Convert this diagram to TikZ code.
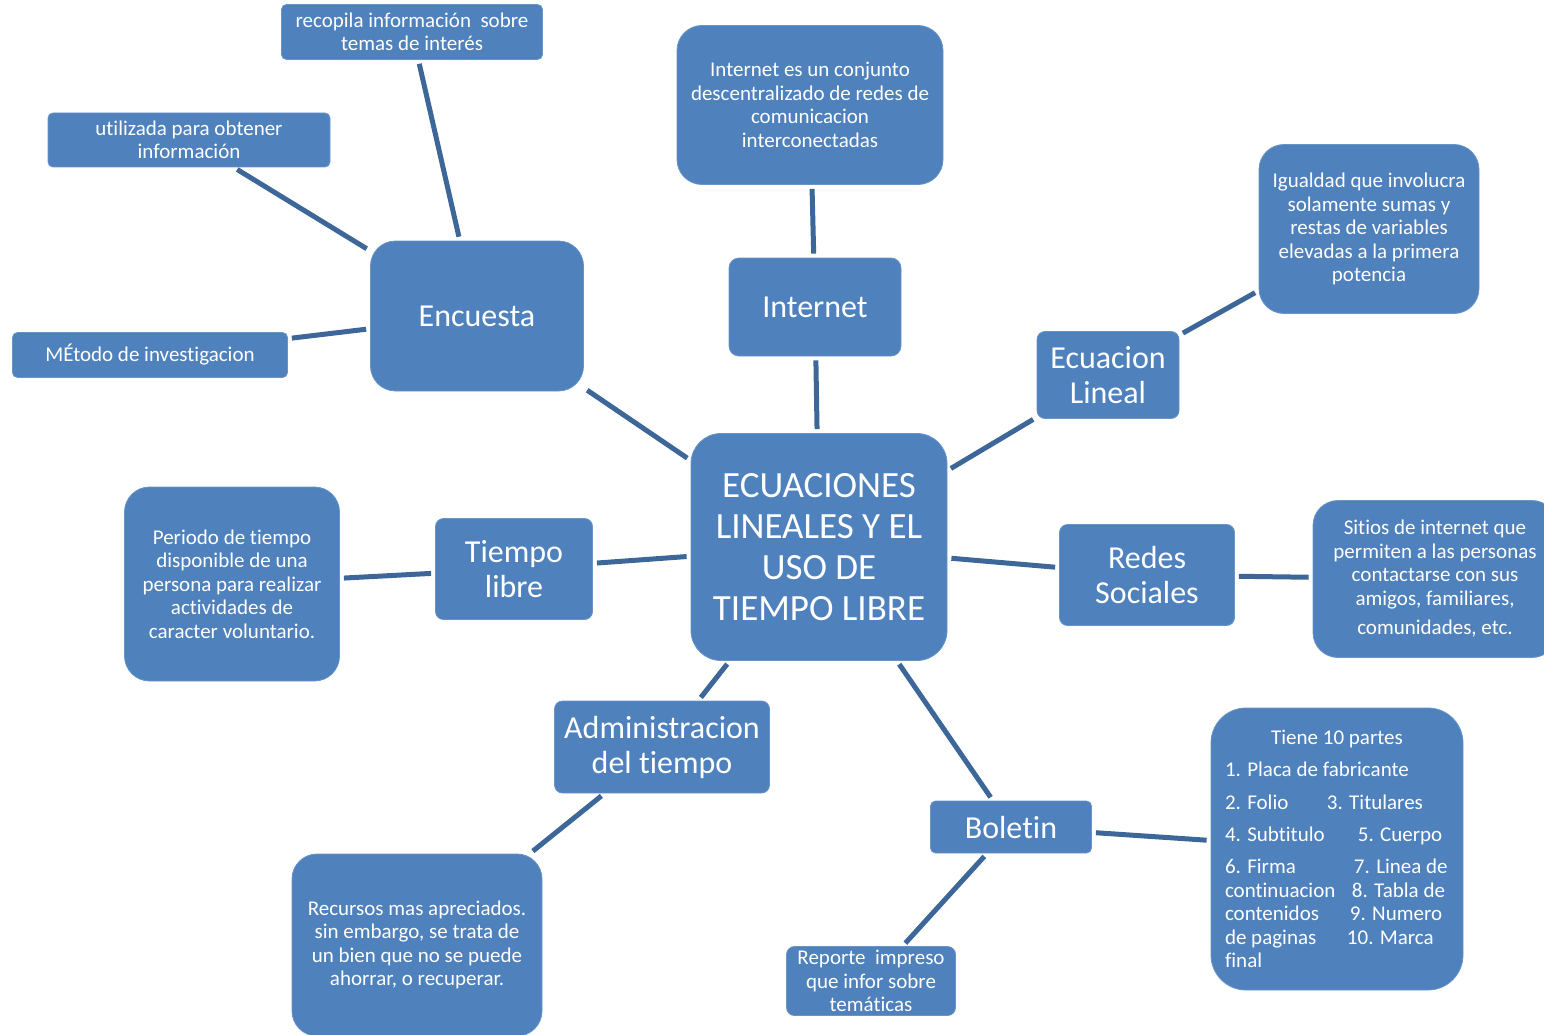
\documentclass[tikz,border=0pt]{standalone}
\usepackage{fontspec}
\setmainfont{Carlito}[Ligatures=NoCommon]
\usetikzlibrary{positioning}

\definecolor{boxblue}{HTML}{4F81BD}
\definecolor{linkblue}{HTML}{3D6699}

\tikzset{
  box/.style={fill=boxblue, draw=boxblue!85!white, line width=0.8pt, text=white,
    align=center, inner sep=2pt},
  smalltxt/.style={font=\fontsize{21}{23.5}\selectfont},
  bigtxt/.style={font=\fontsize{32}{35}\selectfont},
  bubble/.style={box, rounded corners=25pt},
  tag/.style={box, rounded corners=8pt},
  link/.style={draw=linkblue, line width=5pt, shorten <=4pt, shorten >=4pt}
}

\begin{document}
\begin{tikzpicture}[x=1pt,y=-1pt]
\clip (0,0) rectangle (1544,1035);

% centre
\node[bubble, rounded corners=30pt, minimum width=256pt, minimum height=227pt,
  font=\fontsize{37}{41}\selectfont] (main) at (819,547)
  {ECUACIONES\\LINEALES Y EL\\USO DE\\TIEMPO LIBRE};

% Encuesta
\node[bubble, bigtxt, minimum width=213pt, minimum height=150pt] (encuesta) at (477,316) {Encuesta};
\node[tag, rounded corners=5pt, smalltxt, minimum width=261pt, minimum height=55pt] (recopila) at (412,32)
  {recopila información\ \ sobre\\temas de interés};
\node[tag, rounded corners=5pt, smalltxt, minimum width=282pt, minimum height=54pt] (utilizada) at (189,140)
  {utilizada para obtener\\información};
\node[tag, rounded corners=5pt, smalltxt, minimum width=275pt, minimum height=45pt] (metodo) at (150,355)
  {MÉtodo de investigacion};

% Internet
\node[tag, rounded corners=10pt, bigtxt, minimum width=172pt, minimum height=98pt] (internet) at (815,307) {Internet};
\node[bubble, smalltxt, minimum width=266pt, minimum height=159pt] (redes) at (810,105)
  {Internet es un conjunto\\descentralizado de redes de\\comunicacion\\interconectadas};

% Ecuacion lineal
\node[tag, bigtxt, minimum width=142pt, minimum height=87pt] (ecuacion) at (1108,375) {Ecuacion\\Lineal};
\node[bubble, smalltxt, minimum width=220pt, minimum height=169pt] (igualdad) at (1369,229)
  {Igualdad que involucra\\solamente sumas y\\restas de variables\\elevadas a la primera\\potencia};

% Redes sociales
\node[tag, bigtxt, minimum width=175pt, minimum height=101pt] (sociales) at (1147,575) {Redes\\Sociales};
\node[bubble, smalltxt, minimum width=244pt, minimum height=157pt] (sitios) at (1435,579)
  {Sitios de internet que\\permiten a las personas\\contactarse con sus\\amigos, familiares,\\[6pt]comunidades, etc.};

% Tiempo libre
\node[tag, bigtxt, minimum width=157pt, minimum height=101pt] (tiempo) at (514,569) {Tiempo\\libre};
\node[bubble, smalltxt, minimum width=215pt, minimum height=194pt] (periodo) at (232,584)
  {Periodo de tiempo\\disponible de una\\persona para realizar\\actividades de\\caracter voluntario.};

% Administracion del tiempo
\node[tag, bigtxt, minimum width=215pt, minimum height=92pt] (admin) at (662,747) {Administracion\\del tiempo};
\node[bubble, smalltxt, minimum width=250pt, minimum height=182pt] (recursos) at (417,945)
  {Recursos mas apreciados.\\sin embargo, se trata de\\un bien que no se puede\\ahorrar, o recuperar.};

% Boletin
\node[tag, rounded corners=5pt, bigtxt, minimum width=161pt, minimum height=52pt] (boletin) at (1011,827) {Boletin};
\node[tag, smalltxt, minimum width=169pt, minimum height=69pt] (reporte) at (871,981)
  {Reporte\ \ impreso\\que infor sobre\\temáticas};
\node[bubble, rounded corners=35pt, smalltxt, align=left, minimum width=252pt, minimum height=282pt] (partes) at (1337,849)
  {\makebox[224pt][c]{Tiene 10 partes}\\[8.5pt]
   1. Placa de fabricante\\[9pt]
   \makebox[102pt][l]{2. Folio}3. Titulares\\[8.5pt]
   \makebox[133pt][l]{4. Subtitulo}5. Cuerpo\\[9pt]
   \makebox[129pt][l]{6. Firma}7. Linea de\\
   \makebox[127pt][l]{continuacion}8. Tabla de\\
   \makebox[125pt][l]{contenidos}9. Numero\\
   \makebox[122pt][l]{de paginas}10. Marca\\
   final};

% connectors
\draw[link] (encuesta) -- (recopila);
\draw[link] (encuesta) -- (utilizada);
\draw[link] (encuesta) -- (metodo);
\draw[link] (main) -- (encuesta);
\draw[link] (main) -- (internet);
\draw[link] (internet) -- (redes);
\draw[link] (main) -- (ecuacion);
\draw[link] (ecuacion) -- (igualdad);
\draw[link] (main) -- (sociales);
\draw[link] (sociales) -- (sitios);
\draw[link] (main) -- (tiempo);
\draw[link] (tiempo) -- (periodo);
\draw[link] (main) -- (admin);
\draw[link] (admin) -- (recursos);
\draw[link] (main) -- (boletin);
\draw[link] (boletin) -- (partes);
\draw[link] (boletin) -- (reporte);
\end{tikzpicture}
\end{document}
